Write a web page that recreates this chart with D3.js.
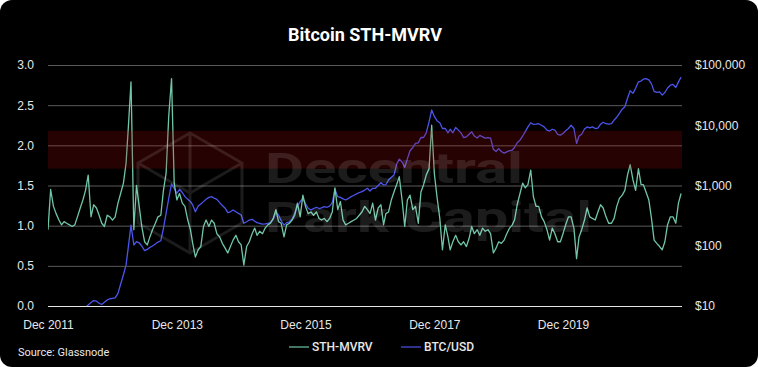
<!DOCTYPE html>
<html>
<head>
<meta charset="utf-8">
<script src="https://cdn.jsdelivr.net/npm/d3@7"></script>
<style>
    body { margin: 0; background: #fff; }
    svg { display: block; font-family: Roboto, "Noto Sans", sans-serif; }
</style>
</head>
<body>
<svg class="chart" width="758" height="367"></svg>
<script>

// two readings a month (1st and 16th), starting Dec 2011
const firstMonth = [2011, 11];

// STH-MVRV, left axis
const mvrv = [
    0.95, 1.45, 1.24, 1.15, 1.07, 1.01, 1.05, 1.03, 1.01, 0.99,
    1.01, 1.11, 1.22, 1.32, 1.44, 1.63, 1.11, 1.26, 1.22, 1.13,
    1.03, 0.99, 1.13, 1.11, 1.07, 1.11, 1.28, 1.40, 1.53, 1.78,
    2.23, 2.79, 0.95, 1.50, 1.25, 0.99, 0.80, 0.76, 0.86, 0.95,
    1.03, 1.11, 1.13, 1.44, 1.65, 2.36, 2.83, 1.53, 1.32, 1.40,
    1.28, 1.24, 1.07, 0.95, 0.78, 0.61, 0.70, 0.74, 0.99, 1.07,
    0.99, 1.07, 1.03, 0.90, 0.86, 0.78, 0.72, 0.66, 0.74, 0.82,
    0.88, 0.80, 0.76, 0.51, 0.74, 0.80, 0.90, 0.97, 0.88, 0.93,
    0.90, 0.97, 1.01, 1.03, 1.09, 1.20, 1.05, 1.03, 0.86, 1.01,
    1.03, 1.07, 1.13, 1.28, 1.11, 1.38, 1.24, 1.15, 1.17, 1.13,
    1.17, 1.09, 1.07, 1.09, 1.05, 1.09, 1.17, 1.47, 1.20, 1.30,
    1.07, 1.01, 1.03, 1.05, 1.07, 1.09, 1.13, 1.17, 1.24, 1.20,
    1.15, 1.28, 1.07, 1.22, 1.26, 1.01, 1.15, 1.17, 1.32, 1.42,
    1.51, 1.61, 1.32, 0.99, 1.32, 1.38, 1.20, 1.24, 1.03, 1.42,
    1.51, 1.63, 1.71, 2.25, 1.65, 1.36, 1.09, 0.70, 1.01, 0.86,
    0.70, 0.80, 0.88, 0.80, 0.76, 0.80, 0.74, 0.84, 0.99, 0.90,
    0.95, 0.88, 0.97, 0.93, 0.95, 0.90, 0.66, 0.72, 0.80, 0.78,
    0.82, 0.90, 0.97, 1.01, 1.07, 1.26, 1.40, 1.53, 1.47, 1.51,
    1.69, 1.36, 1.24, 1.24, 1.11, 1.05, 0.95, 0.82, 0.97, 0.90,
    0.80, 0.80, 0.90, 1.01, 1.11, 1.11, 0.97, 0.59, 0.86, 0.95,
    1.07, 1.22, 1.11, 1.09, 1.07, 1.17, 1.26, 1.22, 1.11, 1.03,
    1.03, 1.09, 1.24, 1.34, 1.38, 1.44, 1.63, 1.76, 1.57, 1.44,
    1.71, 1.51, 1.51, 1.42, 1.32, 1.09, 0.82, 0.78, 0.74, 0.70,
    0.80, 1.01, 1.11, 1.11, 1.03, 1.28, 1.40
];

// BTC/USD, right axis (log)
const btcPrice = [
    3.0, 3.5, 5.5, 6.5, 5.5, 5.0, 4.9, 5.0, 5.0, 5.1,
    5.3, 6.0, 6.6, 8.0, 9.5, 10.4, 11.4, 12.3, 12.0, 11.1,
    10.6, 11.5, 12.6, 13.2, 13.4, 13.6, 16.2, 23, 33, 48,
    97, 220, 103, 117, 112, 99, 83, 87, 94, 99,
    107, 115, 121, 195, 345, 610, 1060, 898, 743, 865,
    765, 653, 590, 540, 475, 366, 455, 495, 540, 590,
    635, 653, 615, 590, 520, 465, 420, 355, 366, 393,
    366, 345, 324, 236, 250, 267, 275, 255, 242, 236,
    228, 230, 236, 242, 275, 355, 324, 260, 220, 242,
    250, 275, 345, 445, 540, 610, 495, 420, 393, 415,
    435, 415, 425, 445, 435, 455, 520, 865, 653, 635,
    600, 575, 610, 653, 690, 725, 765, 790, 840, 898,
    810, 898, 898, 1000, 1110, 1015, 1030, 1236, 1370, 1490,
    2250, 2740, 2450, 2000, 2770, 3780, 4280, 4990, 5120, 6260,
    6260, 7480, 11400, 17900, 14000, 11900, 11000, 8830, 8830, 7480,
    8580, 7480, 9200, 8290, 7480, 6260, 6420, 7080, 7780, 6620,
    6150, 6800, 6420, 6100, 6260, 6100, 4000, 3660, 4100, 3660,
    3440, 3620, 3780, 3880, 4280, 5120, 5660, 6620, 7860, 9390,
    11000, 10300, 10400, 10600, 10000, 9390, 8290, 8000, 8580, 8290,
    7080, 6850, 7300, 8100, 8830, 10000, 8830, 4990, 6620, 7080,
    8650, 9390, 9050, 9390, 8830, 8950, 10400, 11200, 10600, 10400,
    10600, 12200, 13600, 15800, 18500, 20300, 28000, 37500, 33800, 41000,
    52500, 54000, 58100, 59600, 56600, 48600, 36500, 35000, 35800, 31600,
    35000, 41500, 46200, 47500, 42300, 52500, 62800
];

const leftTicks = [0, 0.5, 1, 1.5, 2, 2.5, 3];
const rightTicks = [10, 100, 1000, 10000, 100000];
const xTicks = ['2011-12-01', '2013-12-01', '2015-12-01', '2017-12-01', '2019-12-01'];
const zoneBand = [1.71, 2.18];

const seriesNames = ['STH-MVRV', 'BTC/USD'];
const seriesColors = ['#70c6a6', '#4b55ec'];

const main = {};

main.dates = mvrv.map((d, i) => new Date(firstMonth[0], firstMonth[1] + Math.floor(i / 2), i % 2 ? 16 : 1));

main.box = { left: 48, right: 682, top: 65, bottom: 306 };

const svg = d3.select('svg.chart');
const box = main.box;

const x = d3.scaleTime()
    .domain([new Date(2011, 11, 1), new Date(2019, 11, 1)])
    .range([box.left, 563]);

const yL = d3.scaleLinear().domain([0, 3]).range([box.bottom, box.top]);
const yR = d3.scaleLog().domain([10, 100000]).range([box.bottom, box.top]);

// card
svg.append('rect')
    .attr('width', 758).attr('height', 367)
    .attr('rx', 12)
    .attr('fill', '#000');

svg.append('text')
    .attr('x', 365).attr('y', 41)
    .attr('text-anchor', 'middle')
    .attr('fill', '#fff')
    .attr('font-size', 18).attr('font-weight', 700)
    .text('Bitcoin STH-MVRV');

// left axis + gridlines
const gL = svg.append('g')
    .attr('transform', `translate(${box.left},0)`)
    .call(d3.axisLeft(yL)
        .tickValues(leftTicks)
        .tickFormat(d3.format('.1f'))
        .tickSize(-(box.right - box.left))
        .tickPadding(14));

gL.select('.domain').remove();
gL.selectAll('line')
    .attr('stroke', d => d === 0 ? '#e6e6e6' : '#5a5a5a');
gL.selectAll('text')
    .attr('fill', '#e8e8e8')
    .attr('font-size', 12).attr('font-weight', 500);

const gR = svg.append('g')
    .attr('transform', `translate(${box.right},0)`)
    .call(d3.axisRight(yR)
        .tickValues(rightTicks)
        .tickFormat(d => '$' + d3.format(',')(d))
        .tickSize(0)
        .tickPadding(13));

gR.select('.domain').remove();
gR.selectAll('text')
    .attr('fill', '#e8e8e8')
    .attr('font-size', 12).attr('font-weight', 500);

const gX = svg.append('g')
    .attr('transform', `translate(0,${box.bottom})`)
    .call(d3.axisBottom(x)
        .tickValues(xTicks.map(d => new Date(d + 'T00:00')))
        .tickFormat(d3.timeFormat('%b %Y'))
        .tickSize(0)
        .tickPadding(14));

gX.select('.domain').remove();
gX.selectAll('text')
    .attr('fill', '#e8e8e8')
    .attr('font-size', 12).attr('font-weight', 500);

// lines
svg.append('clipPath').attr('id', 'plot-clip')
    .append('rect')
    .attr('x', box.left).attr('y', box.top - 10)
    .attr('width', box.right - box.left).attr('height', box.bottom - box.top + 10);

const plot = svg.append('g').attr('clip-path', 'url(#plot-clip)');

const priceLine = d3.line()
    .x((d, i) => x(main.dates[i]))
    .y(d => yR(d));

const mvrvLine = d3.line()
    .x((d, i) => x(main.dates[i]))
    .y(d => yL(d));

plot.append('path')
    .datum(btcPrice)
    .attr('d', priceLine)
    .attr('fill', 'none')
    .attr('stroke', seriesColors[1])
    .attr('stroke-width', 1.3)
    .attr('stroke-linejoin', 'round');

plot.append('path')
    .datum(mvrv)
    .attr('d', mvrvLine)
    .attr('fill', 'none')
    .attr('stroke', seriesColors[0])
    .attr('stroke-width', 1.3)
    .attr('stroke-linejoin', 'round');

// red zone, laid over the lines
svg.append('rect')
    .attr('x', box.left)
    .attr('y', yL(zoneBand[1]))
    .attr('width', box.right - box.left)
    .attr('height', yL(zoneBand[0]) - yL(zoneBand[1]))
    .attr('fill', 'rgba(190,12,12,0.2)');

// watermark
const wm = svg.append('g').attr('opacity', 0.11);

const cx = 190, cy = 193, hw = 52, hh = 60;
const hex = [[cx, cy - hh], [cx + hw, cy - hh / 2], [cx + hw, cy + hh / 2],
             [cx, cy + hh], [cx - hw, cy + hh / 2], [cx - hw, cy - hh / 2]];

wm.append('path')
    .attr('d', 'M' + hex.join('L') + 'Z'
        + `M${cx - hw},${cy - hh / 2}L${cx},${cy}L${cx + hw},${cy - hh / 2}`
        + `M${cx},${cy}L${cx},${cy + hh}M${cx},${cy - hh}L${cx},${cy}`)
    .attr('fill', 'none')
    .attr('stroke', '#fff')
    .attr('stroke-width', 3);

wm.append('text')
    .attr('x', 265).attr('y', 183)
    .attr('fill', '#fff')
    .attr('font-size', 42).attr('font-weight', 700)
    .attr('textLength', 258).attr('lengthAdjust', 'spacingAndGlyphs')
    .text('Decentral');

wm.append('text')
    .attr('x', 265).attr('y', 232)
    .attr('fill', '#fff')
    .attr('font-size', 42).attr('font-weight', 700)
    .attr('textLength', 327).attr('lengthAdjust', 'spacingAndGlyphs')
    .text('Park Capital');

// footer
svg.append('text')
    .attr('x', 18).attr('y', 356)
    .attr('fill', '#e8e8e8')
    .attr('font-size', 11).attr('font-weight', 400)
    .text('Source: Glassnode');

const legendX = [289, 401];

const legend = svg.selectAll('g.legend')
    .data(seriesNames)
    .join('g')
    .classed('legend', true)
    .attr('transform', (d, i) => `translate(${legendX[i]},347)`);

legend.append('line')
    .attr('x1', 0).attr('x2', 20)
    .attr('stroke', (d, i) => seriesColors[i])
    .attr('stroke-width', 1.2);

legend.append('text')
    .attr('x', 23).attr('dy', '0.35em')
    .attr('fill', '#e8e8e8')
    .attr('font-size', 12).attr('font-weight', 500)
    .text(d => d);

</script>
</body>
</html>
